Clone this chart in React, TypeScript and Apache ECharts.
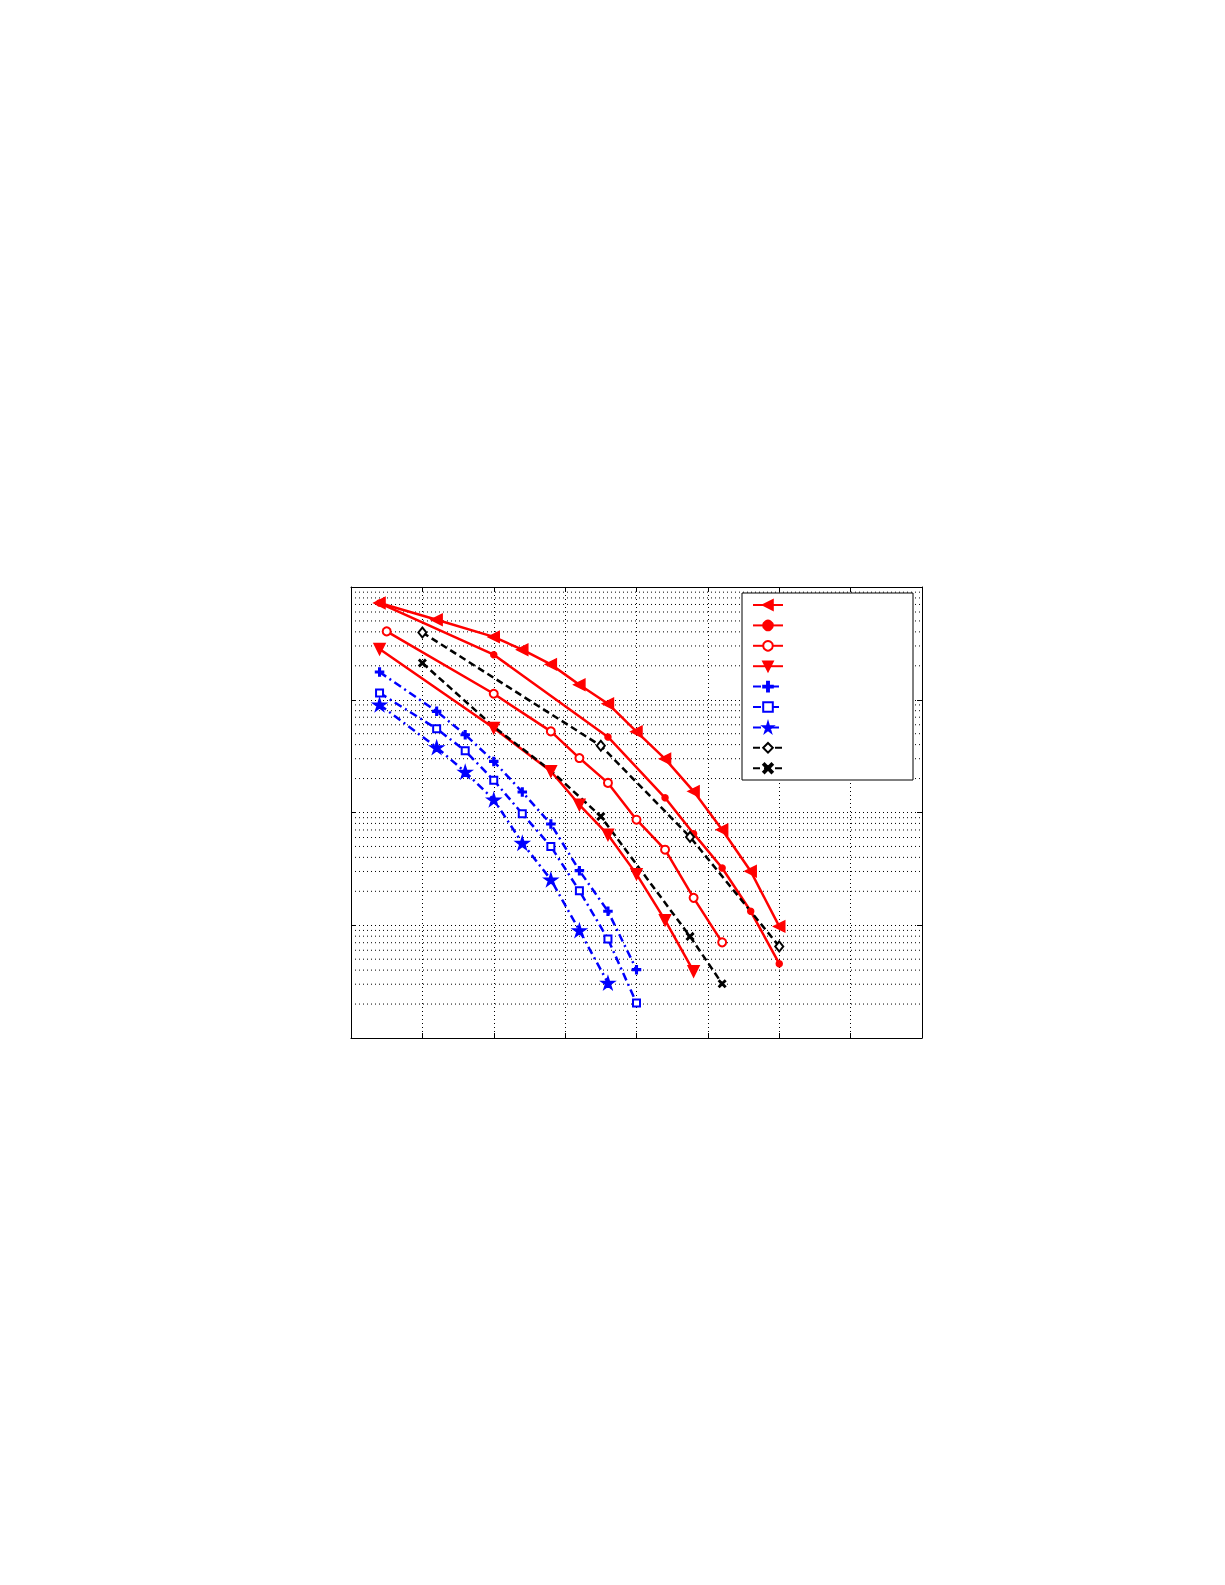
import React, { useEffect, useRef } from 'react';
import * as echarts from 'echarts';

// series values (x in axis units, y on a log scale)
const triLeftX = [2, 6, 10, 12, 14, 16, 18, 20, 22, 24, 26, 28, 30];
const triLeftY = [0.721, 0.513, 0.361, 0.278, 0.206, 0.136, 0.0923, 0.0521, 0.0299, 0.0154, 0.00703, 0.00301, 0.000977];

const dotX = [2, 10, 18, 22, 24, 26, 28, 30];
const dotY = [0.721, 0.251, 0.0468, 0.0135, 0.00649, 0.00322, 0.00133, 0.000456];

const circleX = [2.5, 10, 14, 16, 18, 20, 22, 24, 26];
const circleY = [0.404, 0.113, 0.0524, 0.0304, 0.0183, 0.00863, 0.00468, 0.00175, 0.000705];

const triDownX = [2, 10, 14, 16, 18, 20, 22, 24];
const triDownY = [0.282, 0.0561, 0.0232, 0.0117, 0.00635, 0.00284, 0.00111, 0.00039];

const plusX = [2, 6, 8, 10, 12, 14, 16, 18, 20];
const plusY = [0.176, 0.0789, 0.049, 0.0284, 0.0152, 0.0079, 0.00305, 0.00133, 0.000404];

const squareX = [2, 6, 8, 10, 12, 14, 16, 18, 20];
const squareY = [0.115, 0.0553, 0.0353, 0.0193, 0.00975, 0.005, 0.00202, 0.000755, 0.000204];

const starX = [2, 6, 8, 10, 12, 14, 16, 18];
const starY = [0.0904, 0.0378, 0.0229, 0.013, 0.00536, 0.00254, 0.0009, 0.000308];

const diamondX = [5, 17.5, 23.75, 30];
const diamondY = [0.395, 0.0391, 0.00607, 0.000649];

const crossX = [5, 10, 14, 16, 17.5, 23.75, 26];
const crossY = [0.212, 0.0577, 0.0235, 0.0138, 0.00923, 0.000796, 0.000303];
const crossMarked = [true, false, false, false, true, true, true];

// axis ranges
const X_MIN = 0;
const X_MAX = 40;
const X_STEP = 5;
const Y_MIN = 1e-4;
const Y_MAX = 1;
const decades = [1e-4, 1e-3, 1e-2, 1e-1];
const minorMult = [2, 3, 4, 5, 6, 7, 8, 9];

const seriesNames = ['s1', 's2', 's3', 's4', 's5', 's6', 's7', 's8', 's9'];

const RED = '#ff0000';
const BLUE = '#0000ff';
const BLACK = '#000000';

const SYM_LEFT = 'path://M0,5L10,0L10,10Z';
const SYM_DOWN = 'path://M0,0L10,0L5,10Z';
const SYM_PLUS = 'path://M4,0H6V4H10V6H6V10H4V6H0V4H4Z';
const SYM_CROSS = 'path://M1.4,0L5,3.6L8.6,0L10,1.4L6.4,5L10,8.6L8.6,10L5,6.4L1.4,10L0,8.6L3.6,5L0,1.4Z';
const SYM_STAR = 'path://M50,0L61,35L98,35L68,57L79,91L50,70L21,91L32,57L2,35L39,35Z';

const zip = (xs: number[], ys: number[]) => xs.map((x, i) => [x, ys[i]]);

const App: React.FC = () => {
  const chartRef = useRef<HTMLDivElement>(null);

  useEffect(() => {
    if (!chartRef.current) return;
    const chart = echarts.init(chartRef.current, undefined, { renderer: 'svg' });

    const dotted = { color: '#000', type: [1, 3], width: 1 };

    // minor log grid lines (2..9 within each decade)
    const minorSeries: any[] = [];
    decades.forEach(d =>
      minorMult.forEach(m => {
        minorSeries.push({
          type: 'line',
          data: [[X_MIN, d * m], [X_MAX, d * m]],
          symbol: 'none',
          silent: true,
          lineStyle: dotted,
          emphasis: { disabled: true },
          z: 1
        });
      })
    );

    const redSolid = { color: RED, width: 2.5, type: 'solid' };
    const blueDashDot = { color: BLUE, width: 2.5, type: [8, 4, 2, 4] };
    const blackDash = { color: BLACK, width: 2.5, type: [7, 4] };

    const mk = (name: string, data: any[], line: any, symbol: string, size: number | number[], color: string, bw = 1.5) => ({
      name,
      type: 'line',
      data,
      symbol,
      symbolSize: size,
      symbolKeepAspect: true,
      showAllSymbol: true,
      lineStyle: line,
      itemStyle: { color, borderColor: color, borderWidth: bw },
      emphasis: { disabled: true },
      z: 3
    });

    const option: any = {
      animation: false,
      backgroundColor: '#fff',
      grid: { left: 351, top: 587, width: 571, height: 451, containLabel: false },
      xAxis: [
        {
          type: 'value', min: X_MIN, max: X_MAX, interval: X_STEP, position: 'bottom',
          axisLine: { show: true, onZero: false, lineStyle: { color: '#000', width: 1 } },
          axisTick: { show: true, inside: true, length: 5, lineStyle: { color: '#000' } },
          axisLabel: { show: false },
          splitLine: { show: true, lineStyle: dotted }
        },
        {
          type: 'value', min: X_MIN, max: X_MAX, interval: X_STEP, position: 'top',
          axisLine: { show: true, onZero: false, lineStyle: { color: '#000', width: 1 } },
          axisTick: { show: true, inside: true, length: 5, lineStyle: { color: '#000' } },
          axisLabel: { show: false },
          splitLine: { show: false }
        }
      ],
      yAxis: [
        {
          type: 'log', logBase: 10, min: Y_MIN, max: Y_MAX, splitNumber: 4, position: 'left',
          axisLine: { show: true, onZero: false, lineStyle: { color: '#000', width: 1 } },
          axisTick: { show: true, inside: true, length: 5, lineStyle: { color: '#000' } },
          axisLabel: { show: false },
          splitLine: { show: true, lineStyle: dotted }
        },
        {
          type: 'log', logBase: 10, min: Y_MIN, max: Y_MAX, splitNumber: 4, position: 'right',
          axisLine: { show: true, onZero: false, lineStyle: { color: '#000', width: 1 } },
          axisTick: { show: true, inside: true, length: 5, lineStyle: { color: '#000' } },
          axisLabel: { show: false },
          splitLine: { show: false }
        }
      ],
      legend: {
        data: seriesNames,
        orient: 'vertical',
        left: 742,
        top: 593,
        itemWidth: 30,
        itemHeight: 12,
        itemGap: 8.6,
        padding: [6, 129, 6, 10],
        borderColor: '#000',
        borderWidth: 1,
        backgroundColor: '#fff',
        selectedMode: false,
        formatter: () => '',
        z: 10
      },
      series: [
        ...minorSeries,
        mk(seriesNames[0], zip(triLeftX, triLeftY), redSolid, SYM_LEFT, 11, RED),
        mk(seriesNames[1], zip(dotX, dotY), redSolid, 'circle', 6, RED),
        mk(seriesNames[2], zip(circleX, circleY), redSolid, 'emptyCircle', 8, RED, 2),
        mk(seriesNames[3], zip(triDownX, triDownY), redSolid, SYM_DOWN, 11, RED),
        mk(seriesNames[4], zip(plusX, plusY), blueDashDot, SYM_PLUS, 8, BLUE),
        mk(seriesNames[5], zip(squareX, squareY), blueDashDot, 'emptyRect', 7, BLUE, 2),
        mk(seriesNames[6], zip(starX, starY), blueDashDot, SYM_STAR, 13, BLUE),
        mk(seriesNames[7], zip(diamondX, diamondY), blackDash, 'emptyDiamond', [8, 10], BLACK, 2),
        mk(
          seriesNames[8],
          crossX.map((x, i) => ({ value: [x, crossY[i]], symbol: crossMarked[i] ? SYM_CROSS : 'none' })),
          blackDash, SYM_CROSS, 7, BLACK
        )
      ]
    };

    chart.setOption(option);
    return () => chart.dispose();
  }, []);

  return (
    <div
      ref={chartRef}
      style={{ position: 'absolute', left: 0, top: 0, width: '1225px', height: '1585px' }}
    />
  );
};

export default App;
